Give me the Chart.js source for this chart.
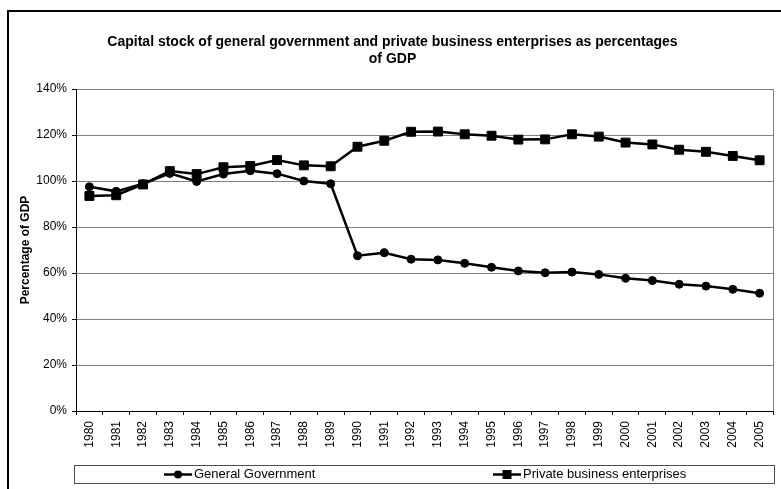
<!DOCTYPE html>
<html>
<head>
<meta charset="utf-8">
<script src="https://cdn.jsdelivr.net/npm/chart.js@4"></script>
<style>
  html, body { margin: 0; padding: 0; background: #fff; }
  #wrap { width: 781px; height: 489px; }
</style>
</head>
<body>
<div id="wrap"><canvas id="c" width="781" height="489"></canvas></div>
<script>
const titleLines = ['Capital stock of general government and private business enterprises as percentages', 'of GDP'];
const yAxisTitle = 'Percentage of GDP';
const years = ['1980','1981','1982','1983','1984','1985','1986','1987','1988','1989','1990','1991','1992','1993','1994','1995','1996','1997','1998','1999','2000','2001','2002','2003','2004','2005'];
const generalGovernment = [97.5, 95.5, 98.8, 103.3, 99.8, 103.0, 104.5, 103.2, 100.0, 98.8, 67.5, 68.8, 66.0, 65.7, 64.2, 62.5, 60.9, 60.1, 60.4, 59.4, 57.7, 56.7, 55.1, 54.3, 52.9, 51.2];
const privateBusiness = [93.5, 93.8, 98.5, 104.3, 103.0, 106.0, 106.5, 109.1, 106.8, 106.4, 114.9, 117.5, 121.4, 121.5, 120.3, 119.7, 118.0, 118.1, 120.3, 119.3, 116.7, 115.9, 113.6, 112.7, 110.9, 109.0];
const seriesNames = ['General Government', 'Private business enterprises'];
const yMin = 0, yMax = 140, yStep = 20;

const FONT = '"Liberation Sans", Arial, Helvetica, sans-serif';

const framePlugin = {
  id: 'frame',
  beforeDraw(chart) {
    const ctx = chart.ctx;
    ctx.save();
    ctx.fillStyle = '#fff';
    ctx.fillRect(0, 0, chart.width, chart.height);
    ctx.strokeStyle = '#000';
    ctx.lineWidth = 2;
    ctx.strokeRect(8, 11, chart.width + 20, chart.height + 20);
    ctx.restore();
  },
  beforeDatasetsDraw(chart) {
    const ctx = chart.ctx, a = chart.chartArea;
    ctx.save();
    ctx.strokeStyle = '#808080';
    ctx.lineWidth = 1;
    ctx.beginPath();
    ctx.moveTo(Math.round(a.right) + 0.5, a.top);
    ctx.lineTo(Math.round(a.right) + 0.5, a.bottom);
    ctx.stroke();
    ctx.restore();
  },
  afterDraw(chart) {
    const ctx = chart.ctx, a = chart.chartArea;
    const boxL = a.left - 2, boxR = a.right + 1, boxT = a.bottom + 54, boxH = 18;
    ctx.save();
    ctx.fillStyle = '#fff';
    ctx.fillRect(boxL, boxT, boxR - boxL, boxH);
    ctx.strokeStyle = '#4d4d4d';
    ctx.lineWidth = 1;
    ctx.strokeRect(Math.round(boxL) + 0.5, Math.round(boxT) + 0.5, Math.round(boxR - boxL), boxH);
    const cy = boxT + boxH / 2 + 0.5;
    const items = [{x: 164}, {x: 493}];
    chart.data.datasets.forEach((ds, i) => {
      const x0 = items[i].x;
      ctx.strokeStyle = '#000';
      ctx.lineWidth = 2.5;
      ctx.beginPath();
      ctx.moveTo(x0, cy);
      ctx.lineTo(x0 + 28, cy);
      ctx.stroke();
      ctx.fillStyle = '#000';
      if (ds.pointStyle === 'rect') {
        ctx.fillRect(x0 + 14 - 4.5, cy - 4.5, 9, 9);
      } else {
        ctx.beginPath();
        ctx.arc(x0 + 14, cy, 4, 0, Math.PI * 2);
        ctx.fill();
      }
      ctx.font = '13px ' + FONT;
      ctx.textBaseline = 'middle';
      ctx.textAlign = 'left';
      ctx.fillText(ds.label, x0 + 30, cy);
    });
    ctx.restore();
  }
};

new Chart(document.getElementById('c'), {
  type: 'line',
  data: {
    labels: years,
    datasets: [
      {
        label: seriesNames[0],
        data: generalGovernment,
        borderColor: '#000',
        backgroundColor: '#000',
        borderWidth: 2.5,
        pointStyle: 'circle',
        pointRadius: 4,
        pointBorderWidth: 1,
        tension: 0
      },
      {
        label: seriesNames[1],
        data: privateBusiness,
        borderColor: '#000',
        backgroundColor: '#000',
        borderWidth: 2.5,
        pointStyle: 'rect',
        pointRadius: 6.3,
        pointBorderWidth: 1,
        tension: 0
      }
    ]
  },
  options: {
    responsive: false,
    animation: false,
    devicePixelRatio: 1,
    layout: { padding: { left: 12, top: 12, right: 8, bottom: 0 } },
    plugins: {
      legend: { display: false },
      tooltip: { enabled: false },
      title: {
        display: true,
        text: titleLines,
        color: '#000',
        font: { family: FONT, size: 14, weight: 'bold', lineHeight: 1.2 },
        padding: { top: 21.6, bottom: 21.8 }
      }
    },
    scales: {
      x: {
        type: 'category',
        offset: true,
        grid: { display: true, offset: true, drawOnChartArea: false, drawTicks: true, tickLength: 4, tickColor: '#000' },
        border: { display: true, color: '#000', width: 1 },
        ticks: {
          autoSkip: false, minRotation: 90, maxRotation: 90, padding: 6,
          color: '#000', font: { family: FONT, size: 12 }
        },
        afterFit(scale) { scale.height = 78; }
      },
      y: {
        min: yMin, max: yMax,
        grid: { color: '#808080', lineWidth: 1, tickLength: 4, tickColor: '#000' },
        border: { display: true, color: '#000', width: 1 },
        ticks: {
          stepSize: yStep, padding: 5, color: '#000',
          font: { family: FONT, size: 12 },
          callback: v => v + '%'
        },
        title: {
          display: true, text: yAxisTitle, color: '#000',
          font: { family: FONT, size: 12, weight: 'bold', lineHeight: 1.2 },
          padding: { top: 6, bottom: 0 }
        },
        afterFit(scale) { scale.width = 64; }
      }
    }
  },
  plugins: [framePlugin]
});
</script>
</body>
</html>
